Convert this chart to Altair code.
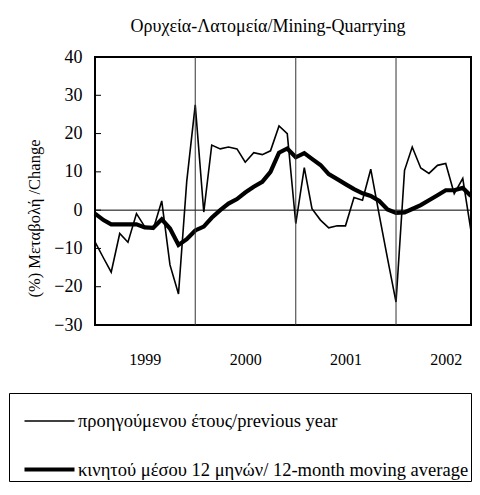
import altair as alt
import pandas as pd

# Monthly observations, Jan 1999 .. Oct 2002
months = [f"{y}-{m:02d}-01T00:00:00" for y in range(1999, 2003) for m in range(1, 13)][:46]

monthly_change = [-8.3, -12.5, -16.2, -6.1, -8.4, -0.9, -4.3, -5.0, 2.4, -14.3, -21.9, 7.5,
                  27.5, -0.5, 17.0, 16.0, 16.5, 16.0, 12.5, 15.0, 14.5, 15.5, 22.0, 20.0,
                  -3.5, 11.1, 0.4, -2.6, -4.6, -4.1, -4.1, 3.3, 2.6, 10.7, -1.3, -12.6,
                  -24.0, 10.4, 16.5, 11.0, 9.6, 11.7, 12.2, 4.3, 8.3, -5.5]

moving_avg = [-0.9, -2.6, -3.7, -3.7, -3.7, -3.7, -4.5, -4.6, -2.4, -4.8, -9.1, -7.6,
              -5.3, -4.3, -2.0, 0.0, 1.7, 2.9, 4.6, 6.1, 7.4, 10.0, 15.0, 16.1,
              13.8, 14.9, 13.4, 11.8, 9.4, 8.1, 6.8, 5.5, 4.4, 3.7, 2.4, 0.2,
              -0.7, -0.6, 0.3, 1.3, 2.6, 3.9, 5.2, 5.2, 5.8, 3.7]

series_names = ["προηγούμενου έτους/previous year",
                "κινητού μέσου 12 μηνών/ 12-month moving average"]
year_starts = ["2000-01-01T00:00:00", "2001-01-01T00:00:00", "2002-01-01T00:00:00"]
year_labels = [1999, 2000, 2001, 2002]
y_ticks = [-30, -20, -10, 0, 10, 20, 30, 40]

FONT = "Liberation Serif"

df = pd.DataFrame({
    "date": months * 2,
    "value": monthly_change + moving_avg,
    "series": [series_names[0]] * len(months) + [series_names[1]] * len(months),
})

x_scale = alt.Scale(domain=[alt.DateTime(year=1999, month=1, date=1),
                            alt.DateTime(year=2002, month=10, date=1)], nice=False)
y_scale = alt.Scale(domain=[-30, 40], nice=False)

x_axis = alt.Axis(values=[alt.DateTime(year=y, month=7, date=1) for y in year_labels],
                  format="%Y", labelFont=FONT, labelFontSize=16, labelColor="black",
                  ticks=False, tickSize=0, domain=False, grid=False, labelOverlap=False,
                  labelBaseline="middle", labelPadding=34, title=None)
y_axis = alt.Axis(values=y_ticks, labelFont=FONT, labelFontSize=18, labelColor="black",
                  ticks=False, tickSize=0, domain=False, grid=False, labelOverlap=False,
                  labelPadding=13, labelBaseline="middle",
                  title="(%) Μεταβολή /Change", titleFont=FONT, titleFontSize=16.5,
                  titleFontWeight="normal", titleColor="black", titleAngle=-90,
                  titleX=-61, titleY=161, titleAlign="center", titleBaseline="middle")

legend = alt.Legend(
    title=None, orient="none", legendX=-86, legendY=336,
    strokeColor="black", fillColor="white", padding=2,
    symbolType="stroke", symbolSize=2500, symbolOffset=11,
    labelFont=FONT, labelFontSize=18.5, labelColor="black", labelOffset=1,
    labelLimit=0, rowPadding=11,
)

lines = alt.Chart(df).mark_line(strokeJoin="miter").encode(
    x=alt.X("date:T", scale=x_scale, axis=x_axis),
    y=alt.Y("value:Q", scale=y_scale, axis=y_axis),
    color=alt.Color("series:N", scale=alt.Scale(domain=series_names, range=["black", "black"]),
                    legend=legend),
    strokeWidth=alt.StrokeWidth("series:N", scale=alt.Scale(domain=series_names, range=[1.6, 4.2]),
                                legend=legend),
)

zero = alt.Chart(pd.DataFrame({"value": [0]})).mark_rule(color="black", strokeWidth=1).encode(
    y=alt.Y("value:Q", scale=y_scale, axis=y_axis))

years = alt.Chart(pd.DataFrame({"date": year_starts})).mark_rule(color="#333333", strokeWidth=1).encode(
    x=alt.X("date:T", scale=x_scale, axis=x_axis))

ticks = alt.Chart(pd.DataFrame({"value": y_ticks})).mark_rule(color="black", strokeWidth=1).encode(
    y=alt.Y("value:Q", scale=y_scale, axis=y_axis), x=alt.value(0), x2=alt.value(6))

chart = alt.layer(lines, zero, years, ticks).properties(
    width=376, height=268,
    autosize=alt.AutoSizeParams(type="none"),
    padding={"left": 87, "top": 49, "right": 1, "bottom": 157},
    title=alt.TitleParams("Ορυχεία-Λατομεία/Mining-Quarrying", font=FONT, fontSize=18,
                          fontWeight="normal", color="black", anchor="middle",
                          baseline="alphabetic", offset=11, dx=-15, dy=13),
).configure_view(stroke="black", strokeWidth=2).configure_axis(labelOverlap=False)

chart.save("out.html", embed_options={"renderer": "svg", "actions": False})
